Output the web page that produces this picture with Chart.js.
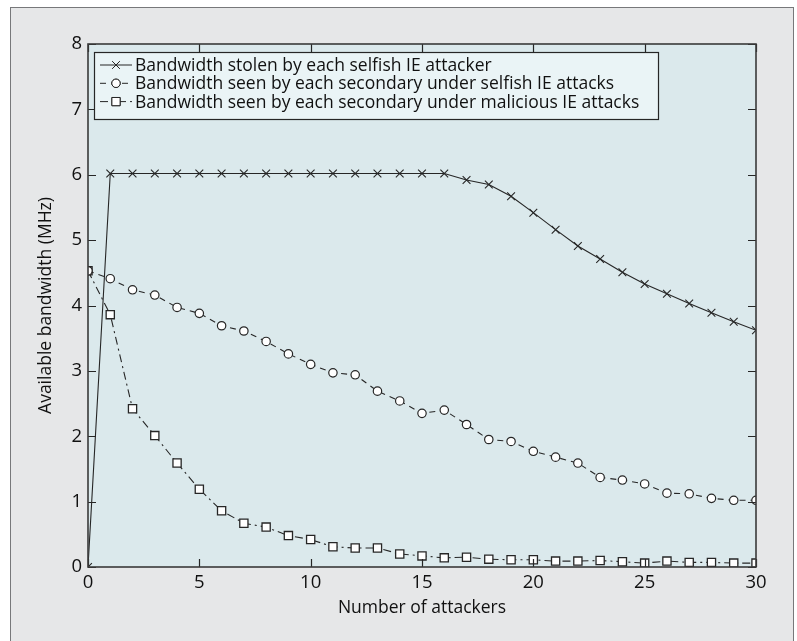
<!DOCTYPE html>
<html>
<head>
<meta charset="utf-8">
<script src="https://cdn.jsdelivr.net/npm/chart.js@4.4.1/dist/chart.umd.min.js"></script>
<style>
    html, body { margin: 0; padding: 0; background: #ffffff; }
    #frame {
        position: absolute; left: 10px; top: 7px; width: 782px; height: 640px;
        background: #e6e7e8; border: 1.5px solid #77787a; border-bottom: none;
    }
    #wrap { position: absolute; left: 0; top: 0; width: 797px; height: 641px; }
</style>
</head>
<body>
<div id="frame"></div>
<div id="wrap"><canvas id="canvas1" width="797" height="641"></canvas></div>
<script>
var attackers = [];
for (var i = 0; i <= 30; i++) attackers.push(i);

var stolenSelfish = [0, 6.02, 6.02, 6.02, 6.02, 6.02, 6.02, 6.02, 6.02, 6.02, 6.02,
    6.02, 6.02, 6.02, 6.02, 6.02, 6.02, 5.92, 5.85, 5.67, 5.42,
    5.16, 4.91, 4.71, 4.51, 4.33, 4.18, 4.03, 3.89, 3.75, 3.62];

var seenSelfish = [4.53, 4.41, 4.24, 4.16, 3.97, 3.88, 3.69, 3.61, 3.45, 3.26, 3.10,
    2.97, 2.94, 2.69, 2.54, 2.35, 2.40, 2.18, 1.95, 1.92, 1.77,
    1.68, 1.59, 1.37, 1.33, 1.27, 1.13, 1.12, 1.05, 1.02, 1.02];

var seenMalicious = [4.53, 3.86, 2.42, 2.01, 1.59, 1.19, 0.86, 0.67, 0.61, 0.48, 0.42,
    0.31, 0.29, 0.29, 0.20, 0.17, 0.14, 0.15, 0.12, 0.11, 0.11,
    0.09, 0.09, 0.10, 0.08, 0.06, 0.09, 0.07, 0.07, 0.06, 0.06];

var seriesLabels = [
    "Bandwidth stolen by each selfish IE attacker",
    "Bandwidth seen by each secondary under selfish IE attacks",
    "Bandwidth seen by each secondary under malicious IE attacks"
];

var xTicks = [0, 5, 10, 15, 20, 25, 30];
var yTicks = [0, 1, 2, 3, 4, 5, 6, 7, 8];

var ink = '#262626';
var textInk = '#111111';
var fontFamily = "'Open Sans', 'DejaVu Sans', sans-serif";

function toPoints(ys) {
    return ys.map(function(v, i) { return { x: attackers[i], y: v }; });
}

// plot background, frame, inward ticks, legend box
var plotDecor = {
    id: 'plotDecor',
    beforeDatasetsDraw: function(chart) {
        var a = chart.chartArea, ctx = chart.ctx;
        ctx.save();
        ctx.fillStyle = '#dbe9ec';
        ctx.fillRect(a.left, a.top, a.right - a.left, a.bottom - a.top);
        ctx.restore();
    },
    afterDatasetsDraw: function(chart) {
        var a = chart.chartArea, ctx = chart.ctx;
        var xs = chart.scales.x, ys = chart.scales.y;
        ctx.save();
        ctx.strokeStyle = ink;
        ctx.lineWidth = 1.2;
        ctx.beginPath();
        xTicks.forEach(function(t) {
            var px = Math.round(xs.getPixelForValue(t)) + 0.5;
            ctx.moveTo(px, a.bottom); ctx.lineTo(px, a.bottom - 8);
            ctx.moveTo(px, a.top); ctx.lineTo(px, a.top + 8);
        });
        yTicks.forEach(function(t) {
            var py = Math.round(ys.getPixelForValue(t)) + 0.5;
            ctx.moveTo(a.left, py); ctx.lineTo(a.left + 8, py);
            ctx.moveTo(a.right, py); ctx.lineTo(a.right - 8, py);
        });
        ctx.stroke();
        ctx.lineWidth = 1.6;
        ctx.strokeStyle = '#3a3a3a';
        ctx.strokeRect(a.left, a.top, a.right - a.left, a.bottom - a.top);

        // legend
        var lx = a.left + 6, ly = a.top + 8, lw = 564, lh = 67;
        ctx.fillStyle = '#eaf4f6';
        ctx.fillRect(lx, ly, lw, lh);
        ctx.lineWidth = 1.2;
        ctx.strokeStyle = ink;
        ctx.strokeRect(lx + 0.5, ly + 0.5, lw, lh);
        ctx.font = '17.5px ' + fontFamily;
        ctx.textBaseline = 'middle';
        chart.data.datasets.forEach(function(ds, i) {
            var cy = ly + 13 + i * 18.3;
            ctx.strokeStyle = ink;
            ctx.lineWidth = 1;
            ctx.setLineDash(ds.borderDash || []);
            ctx.beginPath();
            ctx.moveTo(lx + 6, cy); ctx.lineTo(lx + 38, cy);
            ctx.stroke();
            ctx.setLineDash([]);
            Chart.helpers.drawPoint(ctx, {
                pointStyle: ds.pointStyle, radius: ds.pointRadius, rotation: 0,
                borderWidth: 1
            }, lx + 22, cy);
            if (ds.pointStyle !== 'crossRot') {
                ctx.fillStyle = '#ffffff';
                ctx.lineWidth = 1;
                ctx.beginPath();
                if (ds.pointStyle === 'circle') ctx.arc(lx + 22, cy, ds.pointRadius, 0, Math.PI * 2);
                else { var s = ds.pointRadius * Math.SQRT1_2; ctx.rect(lx + 22 - s, cy - s, 2 * s, 2 * s); }
                ctx.fill(); ctx.stroke();
            }
            ctx.fillStyle = textInk;
            ctx.fillText(ds.label, lx + 41, cy + 1);
        });
        ctx.restore();
    }
};

var ctx = document.getElementById("canvas1").getContext("2d");

window.myLine = new Chart(ctx, {
    type: 'line',
    data: {
        datasets: [{
            label: seriesLabels[0],
            data: toPoints(stolenSelfish),
            borderColor: ink,
            borderWidth: 1.1,
            pointStyle: 'crossRot',
            pointRadius: 5.5,
            pointBorderWidth: 1.1,
            pointBorderColor: ink,
            pointBackgroundColor: ink,
            tension: 0
        }, {
            label: seriesLabels[1],
            data: toPoints(seenSelfish),
            borderColor: ink,
            borderWidth: 1.1,
            borderDash: [6, 5],
            pointStyle: 'circle',
            pointRadius: 4.2,
            pointBorderWidth: 1.2,
            pointBorderColor: ink,
            pointBackgroundColor: '#ffffff',
            tension: 0
        }, {
            label: seriesLabels[2],
            data: toPoints(seenMalicious),
            borderColor: ink,
            borderWidth: 1.1,
            borderDash: [8, 4, 2, 4],
            pointStyle: 'rect',
            pointRadius: 5.8,
            pointBorderWidth: 1.3,
            pointBorderColor: ink,
            pointBackgroundColor: '#ffffff',
            tension: 0
        }]
    },
    options: {
        responsive: false,
        animation: false,
        layout: { padding: { left: 0, top: 44, right: 41, bottom: 0 } },
        plugins: {
            legend: { display: false },
            title: { display: false },
            tooltip: { enabled: false }
        },
        scales: {
            x: {
                type: 'linear',
                min: 0, max: 30,
                afterFit: function(scale) { scale.height = 74; },
                afterBuildTicks: function(scale) {
                    scale.ticks = xTicks.map(function(v) { return { value: v }; });
                },
                grid: { display: false, drawTicks: false },
                border: { display: false },
                ticks: { color: textInk, padding: 5, maxRotation: 0, font: { size: 18.5, family: fontFamily } },
                title: {
                    display: true, text: 'Number of attackers', color: textInk,
                    font: { size: 17.5, family: fontFamily }, padding: { top: 0, bottom: 22 }
                }
            },
            y: {
                type: 'linear',
                min: 0, max: 8,
                afterFit: function(scale) { scale.width = 88; },
                afterBuildTicks: function(scale) {
                    scale.ticks = yTicks.map(function(v) { return { value: v }; });
                },
                grid: { display: false, drawTicks: false },
                border: { display: false },
                ticks: { color: textInk, padding: 6, font: { size: 18.5, family: fontFamily } },
                title: {
                    display: true, text: 'Available bandwidth (MHz)', color: textInk,
                    font: { size: 17.5, family: fontFamily }, padding: { top: 36, bottom: 0 }
                }
            }
        }
    },
    plugins: [plotDecor]
});
</script>
</body>
</html>
